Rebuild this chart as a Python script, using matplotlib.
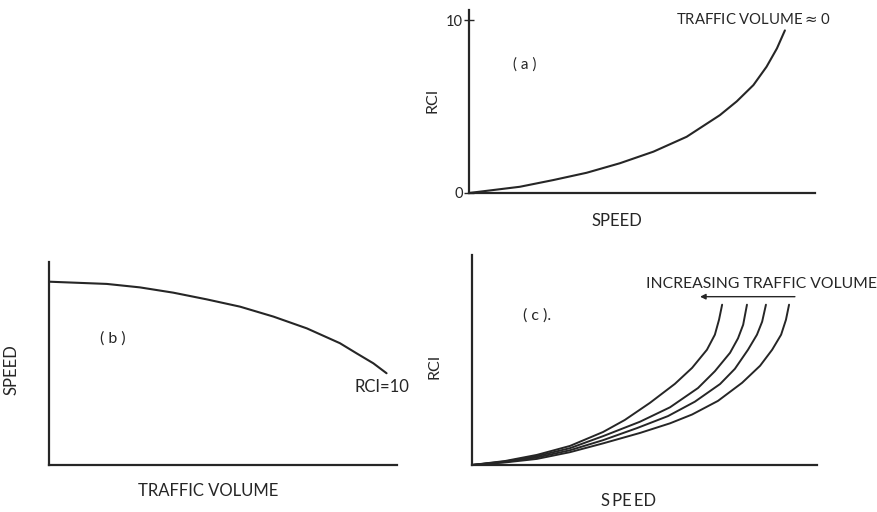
import numpy as np
import matplotlib.pyplot as plt

plt.rcParams['font.family'] = ['Lato', 'DejaVu Sans']

INK = '#262626'

# (a) RCI against speed at near-zero traffic volume
speed_a = [0, 14.7, 24.4, 34.0, 43.6, 53.3, 62.9, 72.5, 77.4, 82.2, 86.0, 89.0, 91.3]
rci_a = [0, 0.36, 0.75, 1.17, 1.72, 2.39, 3.25, 4.5, 5.3, 6.24, 7.3, 8.36, 9.4]

# (b) speed against traffic volume along RCI = 10
volume_b = [0, 16.6, 26.1, 35.7, 45.3, 54.9, 64.5, 74.1, 83.6, 88.4, 93.2, 97.0]
speed_b = [9.03, 8.92, 8.75, 8.49, 8.16, 7.80, 7.31, 6.73, 6.0, 5.5, 5.01, 4.52]

# (c) RCI against speed, one curve per traffic volume (highest volume first)
speed_c = [
    [0, 9.6, 18.8, 28.4, 38.0, 44.3, 51.6, 58.8, 63.8, 68.1, 70.4, 71.6, 72.5],
    [0, 9.6, 18.8, 28.4, 38.0, 48.7, 57.4, 65.5, 70.4, 74.8, 77.1, 78.6, 79.7],
    [0, 9.6, 18.8, 28.4, 38.0, 47.8, 56.8, 64.6, 71.9, 76.2, 80.0, 82.6, 84.1, 85.2],
    [0, 9.6, 18.8, 28.4, 38.0, 48.7, 57.4, 63.8, 71.3, 78.3, 83.5, 87.0, 89.6, 91.0, 91.9],
]
rci_c = [
    [0, 0.25, 0.63, 1.19, 2.06, 2.81, 3.88, 5.06, 6.06, 7.19, 8.13, 9.06, 10],
    [0, 0.22, 0.55, 1.05, 1.8, 2.7, 3.6, 4.8, 5.85, 7.0, 7.9, 8.75, 10],
    [0, 0.19, 0.47, 0.92, 1.55, 2.3, 3.05, 3.95, 5.05, 6.0, 7.19, 8.13, 8.94, 10],
    [0, 0.16, 0.38, 0.8, 1.35, 2.0, 2.6, 3.15, 4.0, 5.13, 6.19, 7.19, 8.13, 9.06, 10],
]

W, H = 878, 512
fig = plt.figure(figsize=(W / 100, H / 100), dpi=100)
fig.patch.set_facecolor('white')


def box(x0, y0, x1, y1):
    # pixel box (top-left origin) -> figure fraction rect
    return [x0 / W, 1 - y1 / H, (x1 - x0) / W, (y1 - y0) / H]


def ftext(x, y, s, size=11, **kw):
    fig.text(x / W, 1 - y / H, s, fontsize=size, color=INK,
             ha='center', va='center', **kw)


def bare(ax):
    for side in ('top', 'right'):
        ax.spines[side].set_visible(False)
    for side in ('left', 'bottom'):
        ax.spines[side].set_linewidth(1.6)
        ax.spines[side].set_color(INK)
    ax.set_xticks([])
    ax.set_yticks([])
    ax.set_facecolor('none')


ax_a = fig.add_axes(box(469, 10, 815, 193))
ax_b = fig.add_axes(box(49, 262, 397, 465))
ax_c = fig.add_axes(box(472, 255, 817, 465))
for ax in (ax_a, ax_b, ax_c):
    bare(ax)
    ax.set_xlim(0, 100)

line_kw = dict(color=INK, solid_capstyle='round', solid_joinstyle='round')

# panel (a)
ax_a.set_ylim(0, 10.58)
ax_a.plot(speed_a, rci_a, lw=1.5, **line_kw)
ax_a.set_yticks([0, 10])
ax_a.set_yticklabels(['0', '10'])
ax_a.tick_params(axis='y', direction='inout', length=7, width=1, color=INK,
                 labelsize=10.5, labelcolor=INK, pad=1)
ftext(433, 100, 'RCI', 11.5, rotation=90)
ftext(525, 65, '( a )', 11)
ftext(617, 221, 'SPEED', 12)
ftext(753, 19, r'TRAFFIC VOLUME$\approx$0', 10.7)

# panel (b)
ax_b.set_ylim(0, 10)
ax_b.plot(volume_b, speed_b, lw=1.5, **line_kw)
ftext(113, 339, '( b )', 11.5)
ftext(12, 370, 'SPEED', 12, rotation=90)
ftext(382, 387, 'RCI=10', 12)
ftext(208, 491, 'TRAFFIC VOLUME', 12)

# panel (c)
ax_c.set_ylim(0, 13.1)
for xs, ys in zip(speed_c, rci_c):
    ax_c.plot(xs, ys, lw=1.4, **line_kw)
ax_c.annotate('', xy=(66.1, 10.5), xytext=(93.6, 10.5),
              arrowprops=dict(arrowstyle='-|>', color=INK, lw=1.0,
                              mutation_scale=8, shrinkA=0, shrinkB=0),
              annotation_clip=False)
ftext(435, 366, 'RCI', 11.5, rotation=90)
ftext(537, 316, '( c ).', 11.5)
ftext(762, 284, 'INCREASING TRAFFIC VOLUME', 11.3)
ftext(629, 501, 'S\u2009PE\u2009ED', 12)

fig.savefig('out.png', dpi=100, facecolor='white')
